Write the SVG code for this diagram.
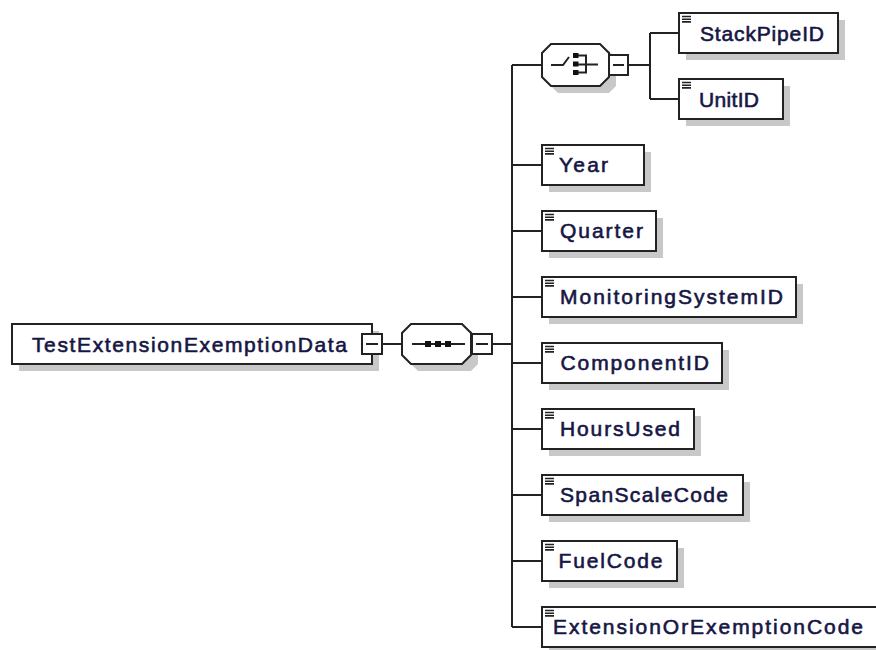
<svg xmlns="http://www.w3.org/2000/svg" width="876" height="650" viewBox="0 0 876 650">
<defs>
<style>
.bx{fill:#fff;stroke:#222;stroke-width:2}
.sh{fill:#c8c8c8;stroke:none}
.ln{fill:none;stroke:#222;stroke-width:2}
.ic{fill:none;stroke:#222;stroke-width:1.6}
.tx{font-family:"Liberation Sans",Arial,sans-serif;font-size:21px;fill:#161645;stroke:#161645;stroke-width:0.6}
.sq{fill:#111}
</style>
<g id="ico">
<path class="ic" d="M545 3.5H554M545 6.2H554M545 8.9H554"/>
</g>
</defs>
<rect width="876" height="650" fill="#fff"/>
<g id="connectors">
<path class="ln" d="M382 344H402M492 344H512M512 65V627M512 65H542M512 165H542M512 231H542M512 297H542M512 363H542M512 429H542M512 495H542M512 561H542M512 627H542"/>
<path class="ln" d="M628 65H650M650 33V99M650 33H679M650 99H679"/>
</g>
<g id="root">
<rect class="sh" x="19" y="331" width="360" height="40"/>
<rect class="bx" x="12" y="324" width="360" height="40"/>
<text class="tx" x="32" y="352" textLength="315" lengthAdjust="spacing">TestExtensionExemptionData</text>
<rect class="bx" x="362" y="334" width="20" height="20"/>
<path class="ln" d="M366 344H378"/>
</g>
<g id="sequence">
<path class="sh" d="M418 331H471L478 338V364L471 371H418L409 362V340Z"/>
<path class="bx" d="M411 324H462L471 333V355L462 364H411L402 355V333Z"/>
<path class="ln" d="M412 344H465"/>
<rect class="sq" x="425" y="341" width="6" height="6"/>
<rect class="sq" x="435" y="341" width="6" height="6"/>
<rect class="sq" x="445" y="341" width="6" height="6"/>
<rect class="bx" x="472" y="334" width="20" height="20"/>
<path class="ln" d="M476 344H488"/>
</g>
<g id="choice">
<path class="sh" d="M558 51H609L616 58V86L609 93H558L549 84V60Z"/>
<path class="bx" d="M551 44H600L609 53V77L600 86H551L542 77V53Z"/>
<path class="ln" d="M551 65H563L569 57"/>
<rect class="sq" x="573" y="53" width="5.5" height="5"/>
<rect class="sq" x="573" y="61.5" width="5.5" height="5"/>
<rect class="sq" x="573" y="70" width="5.5" height="5"/>
<path class="ln" d="M578 55.5H586V72.5H578M578 64.5H598" stroke-width="1.6"/>
<rect class="bx" x="609" y="55" width="19" height="20"/>
<path class="ln" d="M613 65H624"/>
</g>
<g id="StackPipeID">
<rect class="sh" x="686" y="20" width="159" height="40"/>
<rect class="bx" x="679" y="13" width="159" height="40"/>
<path class="ic" d="M682 16.5H691M682 19.2H691M682 21.9H691"/>
<text class="tx" x="700" y="41" textLength="124" lengthAdjust="spacing">StackPipeID</text>
</g>
<g id="UnitID">
<rect class="sh" x="686" y="86" width="104" height="40"/>
<rect class="bx" x="679" y="79" width="104" height="40"/>
<path class="ic" d="M682 82.5H691M682 85.2H691M682 87.9H691"/>
<text class="tx" x="699" y="107" textLength="60" lengthAdjust="spacing">UnitID</text>
</g>
<g id="Year">
<rect class="sh" x="549" y="152" width="102" height="40"/>
<rect class="bx" x="542" y="145" width="102" height="40"/>
<use href="#ico" y="145"/>
<text class="tx" x="559" y="172" textLength="49" lengthAdjust="spacing">Year</text>
</g>
<g id="Quarter">
<rect class="sh" x="549" y="218" width="114" height="40"/>
<rect class="bx" x="542" y="211" width="114" height="40"/>
<use href="#ico" y="211"/>
<text class="tx" x="560" y="238" textLength="83" lengthAdjust="spacing">Quarter</text>
</g>
<g id="MonitoringSystemID">
<rect class="sh" x="549" y="284" width="254" height="40"/>
<rect class="bx" x="542" y="277" width="254" height="40"/>
<use href="#ico" y="277"/>
<text class="tx" x="560" y="304" textLength="223" lengthAdjust="spacing">MonitoringSystemID</text>
</g>
<g id="ComponentID">
<rect class="sh" x="549" y="350" width="180" height="40"/>
<rect class="bx" x="542" y="343" width="180" height="40"/>
<use href="#ico" y="343"/>
<text class="tx" x="560.5" y="370" textLength="148.5" lengthAdjust="spacing">ComponentID</text>
</g>
<g id="HoursUsed">
<rect class="sh" x="549" y="416" width="152" height="40"/>
<rect class="bx" x="542" y="409" width="152" height="40"/>
<use href="#ico" y="409"/>
<text class="tx" x="560" y="436" textLength="120" lengthAdjust="spacing">HoursUsed</text>
</g>
<g id="SpanScaleCode">
<rect class="sh" x="549" y="482" width="201" height="40"/>
<rect class="bx" x="542" y="475" width="201" height="40"/>
<use href="#ico" y="475"/>
<text class="tx" x="560" y="502" textLength="168" lengthAdjust="spacing">SpanScaleCode</text>
</g>
<g id="FuelCode">
<rect class="sh" x="549" y="548" width="135" height="40"/>
<rect class="bx" x="542" y="541" width="135" height="40"/>
<use href="#ico" y="541"/>
<text class="tx" x="558.5" y="568" textLength="104" lengthAdjust="spacing">FuelCode</text>
</g>
<g id="ExtensionOrExemptionCode">
<rect class="sh" x="549" y="614" width="340" height="40"/>
<rect class="bx" x="542" y="607" width="340" height="40"/>
<use href="#ico" y="607"/>
<text class="tx" x="553" y="634" textLength="310" lengthAdjust="spacing">ExtensionOrExemptionCode</text>
</g>
</svg>
